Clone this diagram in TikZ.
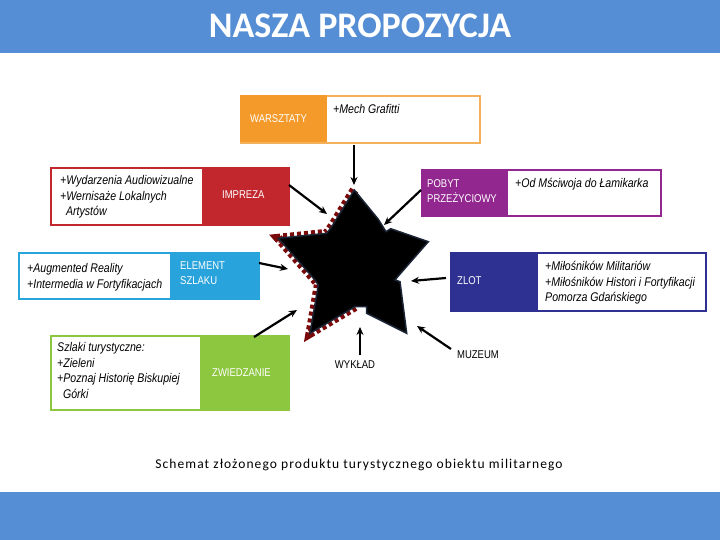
\documentclass[tikz,border=0pt]{standalone}
\usepackage{fontspec}
\setmainfont{Carlito}
\newfontfamily\narrow[FakeStretch=0.84]{Liberation Sans}
\newfontfamily\capfont[LetterSpace=8]{Carlito}
\usetikzlibrary{arrows.meta}
\definecolor{hdr}{HTML}{558ED5}
\definecolor{orng}{HTML}{F39A2B}
\definecolor{orngb}{HTML}{F2B15A}
\definecolor{rd}{HTML}{C1272D}
\definecolor{purp}{HTML}{92278F}
\definecolor{lblue}{HTML}{29A3DC}
\definecolor{dblue}{HTML}{2E3192}
\definecolor{grn}{HTML}{8DC63F}
\definecolor{dred}{HTML}{7A0A0A}
\definecolor{navy}{HTML}{1C2536}
\tikzset{
  frame/.style={draw=#1, line width=2pt, fill=white, minimum width=0pt, inner sep=0pt},
  lbl/.style={font=\narrow\fontsize{11.3}{15}\selectfont, text=white, align=left, inner sep=0pt, anchor=north west},
  itx/.style={font=\narrow\itshape\fontsize{12.6}{15.7}\selectfont, align=left, inner sep=0pt, anchor=north west},
  arr/.style={-{Stealth[length=8pt,width=7pt]}, line width=2.2pt},
  plain/.style={font=\narrow\fontsize{11.3}{13}\selectfont, inner sep=0pt},
}
\begin{document}
\begin{tikzpicture}[x=1pt,y=-1pt]
\useasboundingbox (0,0) rectangle (720,540);
% header / footer
\fill[hdr] (0,0) rectangle (720,53);
\fill[hdr] (0,492) rectangle (720,540);
\node[text=white, font=\bfseries\fontsize{36}{36}\selectfont] (title) at (360,26) {NASZA PROPOZYCJA};

% WARSZTATY
\node[frame=orngb, minimum width=239pt, minimum height=47pt, anchor=north west] (warsz) at (240,95) {};
\fill[orng] (240,95) rectangle (327,142);
\node[lbl, anchor=west] (warszL) at (250,119) {WARSZTATY};
\node[itx] (warszT) at (333,104) {+Mech Grafitti};

% IMPREZA
\node[frame=rd, minimum width=238pt, minimum height=57pt, anchor=north west] (impr) at (50,167) {};
\fill[rd] (202,167) rectangle (288,224);
\node[lbl, anchor=west] (imprL) at (222,195) {IMPREZA};
\node[itx] (imprT) at (60,175) {+Wydarzenia Audiowizualne\\+Wernisaże Lokalnych\\\ \ Artystów};

% POBYT
\node[frame=purp, minimum width=239pt, minimum height=46pt, anchor=north west] (pobyt) at (421,169) {};
\fill[purp] (421,169) rectangle (508,215);
\node[lbl] (pobytL) at (427,179) {POBYT\\PRZEŻYCIOWY};
\node[itx] (pobytT) at (515,178) {+Od Mściwoja do Łamikarka};

% ELEMENT SZLAKU
\node[frame=lblue, minimum width=240pt, minimum height=46pt, anchor=north west] (elem) at (18,252) {};
\fill[lblue] (170,252) rectangle (258,298);
\node[lbl] (elemL) at (180,262) {ELEMENT\\SZLAKU};
\node[itx] (elemT) at (27,263) {+Augmented Reality\\+Intermedia w Fortyfikacjach};

% ZLOT
\node[frame=dblue, minimum width=255pt, minimum height=58pt, anchor=north west] (zlot) at (450,252) {};
\fill[dblue] (450,252) rectangle (538,310);
\node[lbl, anchor=west] (zlotL) at (457,281) {ZLOT};
\node[itx] (zlotT) at (545,261) {+Miłośników Militariów\\+Miłośników Histori i Fortyfikacji\\Pomorza Gdańskiego};

% ZWIEDZANIE
\node[frame=grn, minimum width=238pt, minimum height=74pt, anchor=north west] (zwie) at (50,335) {};
\fill[grn] (200,335) rectangle (288,409);
\node[lbl, anchor=west] (zwieL) at (212,373) {ZWIEDZANIE};
\node[itx] (zwieT) at (57,342) {Szlaki turystyczne:\\+Zieleni\\+Poznaj Historię Biskupiej\\\ \ Górki};

% star
\draw[dred, line width=9pt, dash pattern=on 4pt off 3pt]
  (354.3,190) -- (331.7,226.7) -- (326.7,233.3) -- (278.3,238.3) -- (315,280) -- (318.3,285) -- (310,333.3) -- (355,306.7);
\filldraw[fill=black, draw=navy, line width=1.5pt, line join=miter]
  (354.3,190) -- (378.3,219.3) -- (386,231.7) -- (390.7,228.7) -- (428.3,241.7)
  -- (398.3,276) -- (395,280) -- (400,281.7) -- (406.7,333.3)
  -- (366.7,313.3) -- (366.7,306.7) -- (355,306.7) -- (310,333.3)
  -- (318.3,285) -- (315,280) -- (278.3,238.3) -- (326.7,233.3) -- (331.7,226.7) -- cycle;

% connectors
\coordinate (wA) at (354,145); \coordinate (wB) at (354,185);
\coordinate (iA) at (289,185); \coordinate (iB) at (327,214);
\coordinate (pA) at (421,190); \coordinate (pB) at (384,225);
\coordinate (eA) at (259,263); \coordinate (eB) at (288,269);
\coordinate (zA) at (446,278); \coordinate (zB) at (411,281);
\coordinate (gA) at (254,337); \coordinate (gB) at (297,310);
\coordinate (mB) at (417,326);
\coordinate (yB) at (360,327);
\draw[arr] (wA) -- (wB);
\draw[arr] (iA) -- (iB);
\draw[arr] (pA) -- (pB);
\draw[arr] (eA) -- (eB);
\draw[arr] (zA) -- (zB);
\draw[arr] (gA) -- (gB);
\node[plain] (wyk) at (355,365) {WYKŁAD};
\node[plain] (muz) at (478,355) {MUZEUM};
\draw[arr] (360,355) -- (yB);
\draw[arr] (451,349) -- (mB);

\node[font=\capfont\fontsize{13.5}{16}\selectfont] (cap) at (359,465) {Schemat złożonego produktu turystycznego obiektu militarnego};
\end{tikzpicture}
\end{document}
